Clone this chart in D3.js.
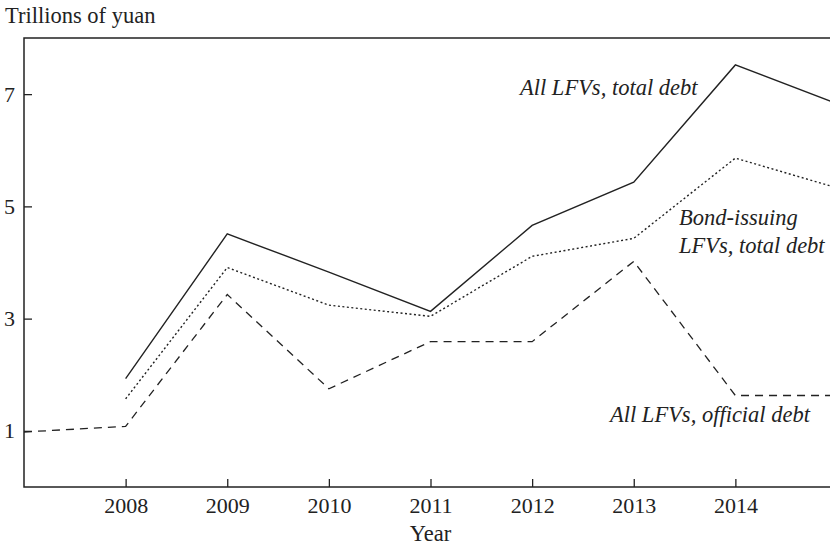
<!DOCTYPE html>
<html>
<head>
<meta charset="utf-8">
<script src="https://cdn.jsdelivr.net/npm/d3@7"></script>
<style>
  body { margin: 0; background: #fff; }
  svg { display: block; }
  svg text { font-family: "Liberation Serif", "Times New Roman", serif; }
  .tick line { stroke: #222; stroke-width: 1.3; }
  .tick text { font-size: 22px; fill: #222; }
</style>
</head>
<body>
<script>
// data (trillions of yuan)
const years = [2007, 2008, 2009, 2010, 2011, 2012, 2013, 2014, 2015]
const allTotal = [null, 1.93, 4.51, 3.83, 3.13, 4.66, 5.43, 7.52, 6.83]
const bondTotal = [null, 1.57, 3.91, 3.24, 3.04, 4.11, 4.43, 5.86, 5.33]
const allOfficial = [0.98, 1.08, 3.43, 1.75, 2.59, 2.59, 4.02, 1.63, 1.63]
const xTicks = [2008, 2009, 2010, 2011, 2012, 2013, 2014]
const yTicks = [1, 3, 5, 7]

const w = 830
const h = 547
const pLeft = 24, pRight = 837, pTop = 38, pBottom = 487

const svg = d3.select('body')
    .append('svg')
    .attr('width', w)
    .attr('height', h)

const xScale = d3.scaleLinear()
    .domain([2007, 2015])
    .range([pLeft, pRight])

const yScale = d3.scaleLinear()
    .domain([0, 8])
    .range([pBottom, pTop])

// clip lines to the plot box
svg.append('clipPath')
    .attr('id', 'plot')
    .append('rect')
    .attr('x', pLeft).attr('y', pTop)
    .attr('width', pRight - pLeft).attr('height', pBottom - pTop)

// x axis, ticks pointing inward
const xAxis = d3.axisBottom(xScale)
    .tickValues(xTicks)
    .tickFormat(d3.format('d'))
    .tickSize(-8)
    .tickSizeOuter(0)
    .tickPadding(10)

svg.append('g')
    .attr('transform', `translate(0,${pBottom})`)
    .call(xAxis)
    .call(g => g.select('.domain').remove())

// y axis
const yAxis = d3.axisLeft(yScale)
    .tickValues(yTicks)
    .tickSize(-8)
    .tickSizeOuter(0)
    .tickPadding(9)

svg.append('g')
    .attr('transform', `translate(${pLeft},0)`)
    .call(yAxis)
    .call(g => g.select('.domain').remove())

// frame
svg.append('rect')
    .attr('x', pLeft).attr('y', pTop)
    .attr('width', pRight - pLeft).attr('height', pBottom - pTop)
    .style('fill', 'none')
    .style('stroke', '#222')
    .style('stroke-width', 1.5)

// lines
const line = d3.line()
    .defined(d => d[1] !== null)
    .x(d => xScale(d[0]))
    .y(d => yScale(d[1]))

const series = [
    { values: allTotal, dash: null, width: 1.4 },
    { values: bondTotal, dash: '2,2.5', width: 1.4 },
    { values: allOfficial, dash: '8,6', width: 1.3 }
]

svg.append('g')
    .attr('clip-path', 'url(#plot)')
    .selectAll('path')
    .data(series)
    .enter()
    .append('path')
    .attr('d', s => line(years.map((y, i) => [y, s.values[i]])))
    .style('fill', 'none')
    .style('stroke', '#222')
    .style('stroke-width', s => s.width)
    .style('stroke-dasharray', s => s.dash)

// y axis title
svg.append('text')
    .attr('x', 5)
    .attr('y', 23)
    .style('font-size', '22.5px')
    .style('fill', '#222')
    .text('Trillions of yuan')

// x axis title
svg.append('text')
    .attr('x', (pLeft + pRight) / 2)
    .attr('y', 541)
    .attr('text-anchor', 'middle')
    .style('font-size', '22.5px')
    .style('fill', '#222')
    .text('Year')

// series labels
const labels = [
    { x: 520, y: 95, lines: ['All LFVs, total debt'] },
    { x: 679, y: 225, lines: ['Bond-issuing', 'LFVs, total debt'] },
    { x: 610, y: 422, lines: ['All LFVs, official debt'] }
]

labels.forEach(l => {
    const t = svg.append('text')
        .attr('x', l.x)
        .attr('y', l.y)
        .style('font-size', '22.5px')
        .style('font-style', 'italic')
        .style('fill', '#222')
    l.lines.forEach((s, i) => {
        t.append('tspan')
            .attr('x', l.x)
            .attr('dy', i === 0 ? 0 : 28)
            .text(s)
    })
})
</script>
</body>
</html>
